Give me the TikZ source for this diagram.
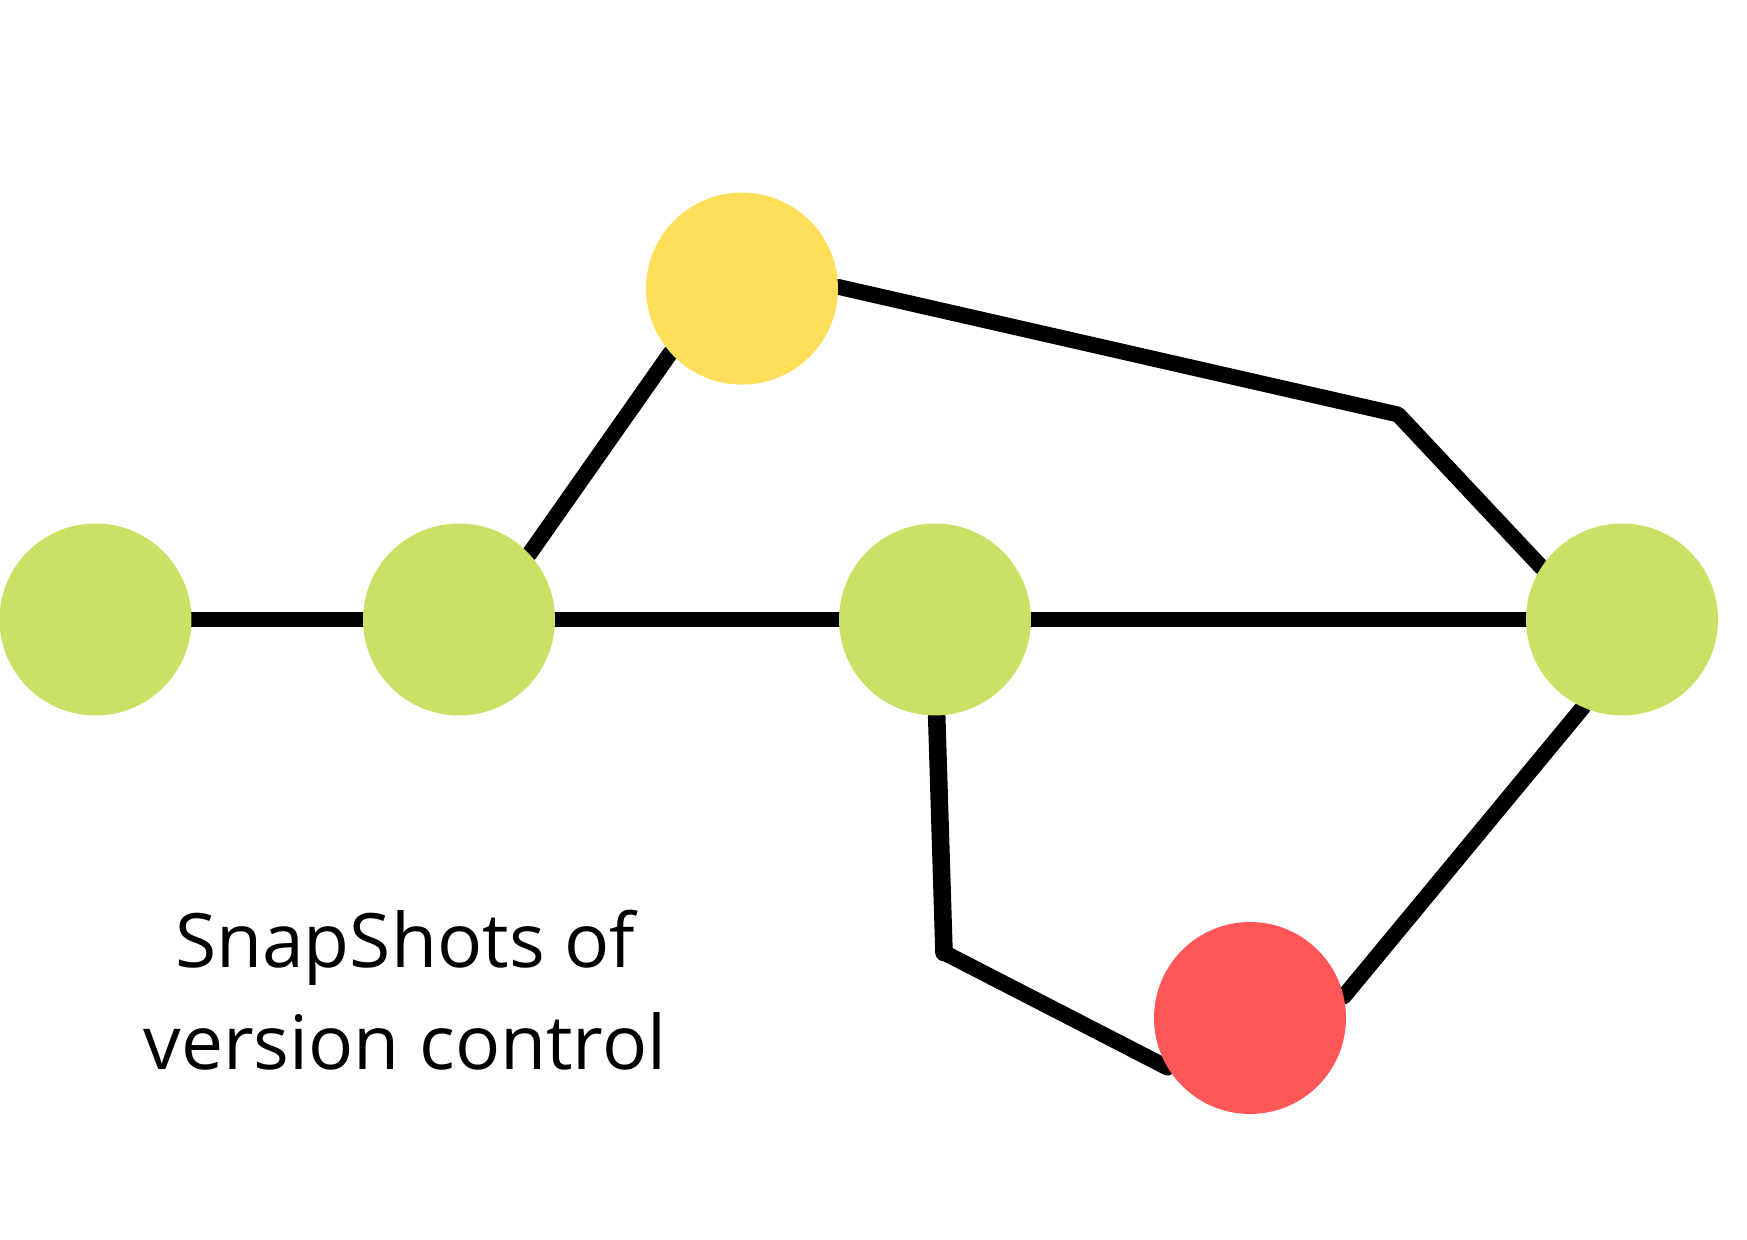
\documentclass[tikz,border=0pt]{standalone}
\usepackage{fontspec}
\setmainfont{Open Sans}
\usepackage{xcolor}
\usepackage{tikz}
\usetikzlibrary{backgrounds}
\definecolor{snapgreen}{HTML}{C9E265}
\definecolor{snapyellow}{HTML}{FFDE59}
\definecolor{snapred}{HTML}{FF5757}

\tikzset{
  snap/.style={circle,inner sep=0pt,minimum size=3.84cm},
  link/.style={line width=9pt,line join=round,line cap=round},
}

\begin{document}
\begin{tikzpicture}[x=0.02cm,y=0.02cm]
\useasboundingbox (0,0) rectangle (1747,1240);

    \node[snap,fill=snapgreen] (a) at (95.5,620.5) {};
    \node[snap,fill=snapgreen] (b) at (459,620.5) {};
    \node[snap,fill=snapgreen] (c) at (935,620.5) {};
    \node[snap,fill=snapgreen] (d) at (1622,620.5) {};
    \node[snap,fill=snapyellow] (y) at (742,951.4) {};
    \node[snap,fill=snapred] (r) at (1250,222) {};

    \coordinate (p) at (1398,825.5);
    \coordinate (q) at (944,287.4);

\begin{pgfonlayer}{background}
    \draw[link] (a) -- (b) -- (c) -- (d);
    \draw[link] (b.43) -- (y.222);
    \draw[link] (y.1) -- (p) -- (d.147);
    \draw[link,line width=10pt] (c.271) -- (q);
    \draw[link] (q) -- (r.211);
    \draw[link] (d.246) -- (r.13);
\end{pgfonlayer}

    \node[align=center,anchor=base,font=\fontsize{42.7}{58.6}\selectfont] (label) at (405,170)
        {SnapShots of\\version control};

\end{tikzpicture}
\end{document}
